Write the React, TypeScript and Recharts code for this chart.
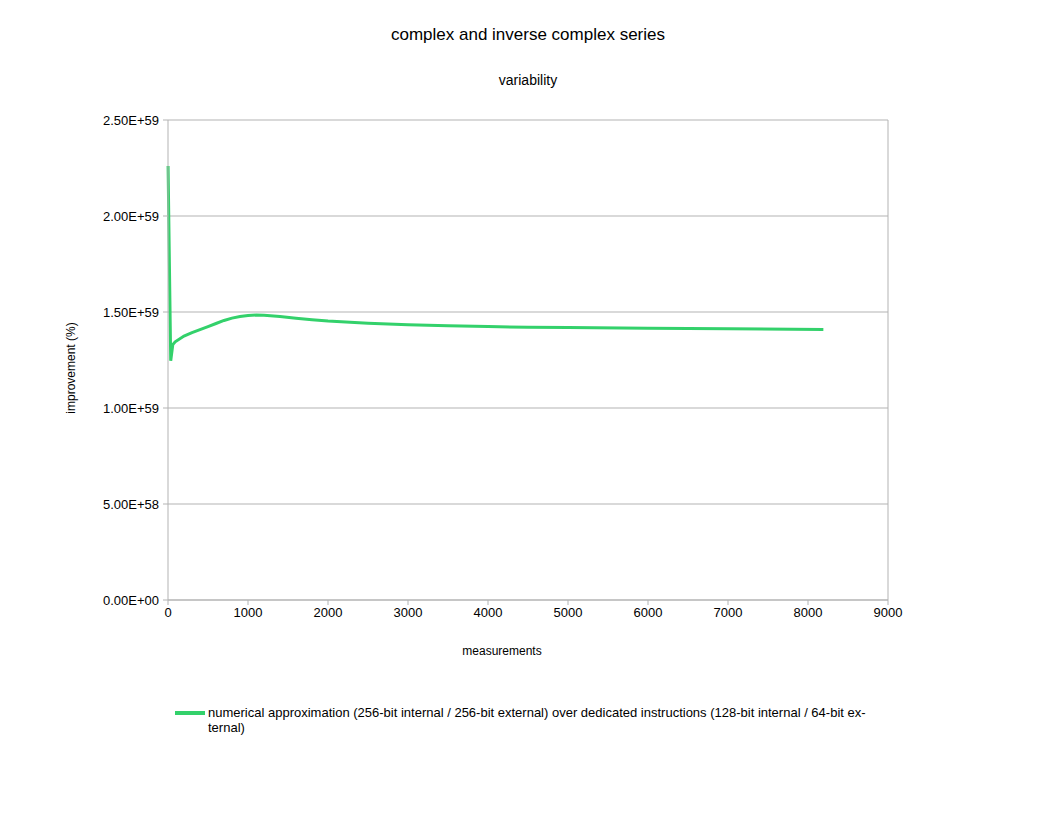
import React from 'react';
import { LineChart, Line, XAxis, YAxis, CartesianGrid, Legend, ReferenceLine } from 'recharts';

const measurements = [1, 34, 60, 90, 200, 300, 400, 500, 600, 700, 800, 900, 1000, 1100, 1200, 1400, 1600, 1800, 2000, 2500, 3000, 3500, 4000, 4500, 5000, 6000, 7000, 8192];
const improvement = [
  2.26e59, 1.246e59, 1.33e59, 1.345e59, 1.375e59, 1.393e59, 1.408e59, 1.424e59, 1.44e59, 1.456e59,
  1.468e59, 1.477e59, 1.482e59, 1.484e59, 1.483e59, 1.477e59, 1.468e59, 1.46e59, 1.453e59, 1.441e59,
  1.433e59, 1.428e59, 1.424e59, 1.421e59, 1.419e59, 1.416e59, 1.413e59, 1.409e59,
];
const xTicks = [0, 1000, 2000, 3000, 4000, 5000, 6000, 7000, 8000, 9000];
const yTicks = [0, 0.5e59, 1e59, 1.5e59, 2e59, 2.5e59];

const seriesName = 'numerical approximation (256-bit internal / 256-bit external) over dedicated instructions (128-bit internal / 64-bit external)';
const legendLines = ['numerical approximation (256-bit internal / 256-bit external) over dedicated instructions (128-bit internal / 64-bit ex-', 'ternal)'];

const data = measurements.map((m, i) => ({ m, v: improvement[i] }));

const FONT = '"Liberation Sans", Arial, sans-serif';
const GRID = '#b3b3b3';
const GREEN = '#33d16b';

// 2.50E+59 style
const sci = (v: number) => {
  if (v === 0) return '0.00E+00';
  const [mant, exp] = v.toExponential(2).split('e');
  const e = parseInt(exp, 10);
  return `${mant}E${e < 0 ? '-' : '+'}${String(Math.abs(e)).padStart(2, '0')}`;
};

const LegendBox = () => (
  <div style={{ display: 'flex', fontFamily: FONT, fontSize: 13, lineHeight: '15px', color: '#000', height: 40 }}>
    <div style={{ width: 30, height: 4, background: GREEN, marginTop: 6, marginRight: 3, flexShrink: 0 }} />
    <div>
      {legendLines.map((l) => (
        <div key={l} style={{ whiteSpace: 'nowrap' }}>{l}</div>
      ))}
    </div>
  </div>
);

export default function App() {
  return (
    <div style={{ position: 'absolute', left: 0, top: 0, width: 1056, height: 816, background: '#fff', fontFamily: FONT }}>
      <div style={{ position: 'absolute', top: 25, width: 1056, textAlign: 'center', fontSize: 17 }}>complex and inverse complex series</div>
      <div style={{ position: 'absolute', top: 72, width: 1056, textAlign: 'center', fontSize: 14 }}>variability</div>
      <LineChart width={1056} height={816} data={data} margin={{ top: 120, right: 168, left: 0, bottom: 71 }}>
        <CartesianGrid vertical={false} stroke={GRID} />
        <ReferenceLine x={9000} stroke={GRID} />
        <XAxis
          dataKey="m"
          type="number"
          domain={[0, 9000]}
          ticks={xTicks}
          height={105}
          stroke={GRID}
          tickSize={5}
          tickMargin={3}
          tick={{ fill: '#000', fontSize: 13, fontFamily: FONT }}
          label={{
            content: () => (
              <text x={502} y={655} textAnchor="middle" fontSize={12} fontFamily={FONT} fill="#000">measurements</text>
            ),
          }}
        />
        <YAxis
          type="number"
          domain={[0, 2.5e59]}
          ticks={yTicks}
          width={168}
          stroke={GRID}
          tickSize={5}
          tickMargin={4}
          tickFormatter={sci}
          tick={{ fill: '#000', fontSize: 13, fontFamily: FONT }}
          label={{
            content: () => (
              <text x={75} y={368} transform="rotate(-90 75 368)" textAnchor="middle" fontSize={12} fontFamily={FONT} fill="#000">improvement (%)</text>
            ),
          }}
        />
        <Legend
          verticalAlign="bottom"
          content={() => <LegendBox />}
          wrapperStyle={{ left: 175, width: 720 }}
        />
        <Line
          name={seriesName}
          dataKey="v"
          type="linear"
          stroke={GREEN}
          strokeWidth={3}
          dot={false}
          isAnimationActive={false}
        />
      </LineChart>
    </div>
  );
}
